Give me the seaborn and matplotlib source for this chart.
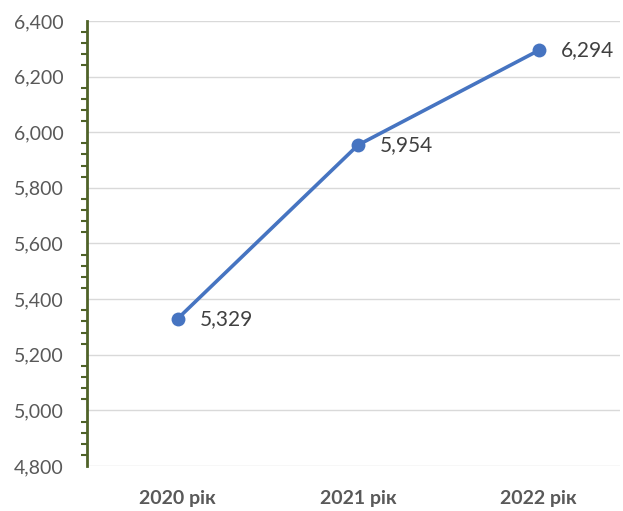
import matplotlib
matplotlib.use("Agg")
import matplotlib.pyplot as plt
from matplotlib.ticker import MultipleLocator, FuncFormatter
import seaborn as sns
import pandas as pd

years = ["2020 рік", "2021 рік", "2022 рік"]
values = [5329, 5954, 6294]

sns.set_style("white")
plt.rcParams['font.family'] = ['Lato', 'DejaVu Sans']

df = pd.DataFrame({"year": years, "value": values})

fig = plt.figure(figsize=(6.23, 5.11), dpi=100)
ax = fig.add_axes([0.14, 0.088, 0.855, 0.871])

sns.lineplot(data=df, x="year", y="value", ax=ax, color="#4674C1",
             linewidth=2.6, marker="o", markersize=10, markeredgewidth=0, sort=False)

for i, v in enumerate(values):
    ax.annotate(f"{v:,}", (i, v), xytext=(16, 0), textcoords="offset points",
                va="center", ha="left", fontsize=15, color="#404040")

ax.set_ylim(4800, 6400)
ax.set_xlim(-0.5, 2.45)
ax.yaxis.set_major_locator(MultipleLocator(200))
ax.yaxis.set_minor_locator(MultipleLocator(40))
ax.yaxis.set_major_formatter(FuncFormatter(lambda v, p: f"{int(v):,}"))
ax.grid(axis="y", color="#d9d9d9", linewidth=1)
ax.set_axisbelow(True)

for s in ["top", "right", "bottom"]:
    ax.spines[s].set_visible(False)
ax.spines["left"].set_color("#4F6228")
ax.spines["left"].set_linewidth(2)

ax.tick_params(axis="y", which="major", direction="out", length=5, width=1.5,
               color="#4F6228", labelsize=14, labelcolor="#595959", pad=12)
ax.tick_params(axis="y", which="minor", direction="out", length=4, width=1.5,
               color="#4F6228", left=True)
ax.tick_params(axis="x", length=0, labelsize=14, labelcolor="#595959", pad=17)
for lab in ax.get_xticklabels():
    lab.set_fontweight("bold")

ax.set_xlabel("")
ax.set_ylabel("")

fig.savefig("out.png", dpi=100)
